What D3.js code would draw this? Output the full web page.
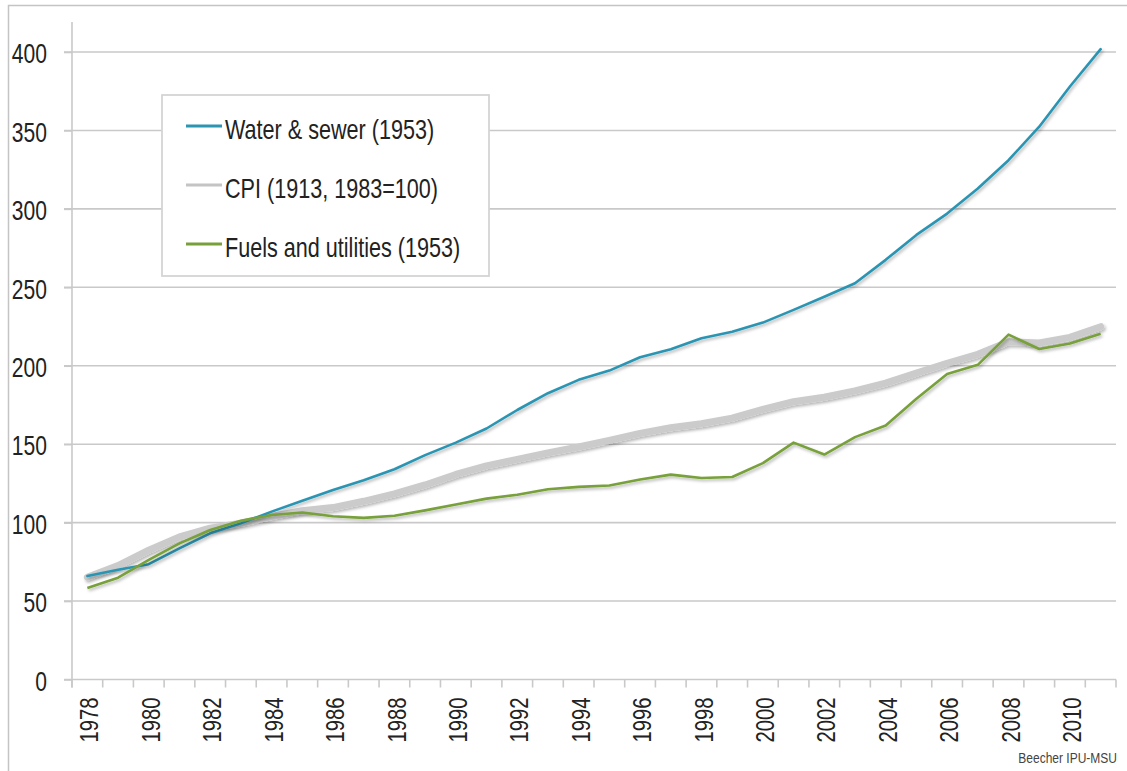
<!DOCTYPE html>
<html>
<head>
<meta charset="utf-8">
<script src="https://cdn.jsdelivr.net/npm/d3@7"></script>
<style>
  body { margin: 0; background: #fff; }
  svg text { font-family: "Liberation Sans", Arial, sans-serif; fill: #222; }
</style>
</head>
<body>
<svg width="1127" height="771"></svg>
<script>
const years = d3.range(1978, 2012);
const waterSewer = [66, 70, 73.5, 83.6, 93.2, 99.6, 107, 114, 120.8, 127, 134, 143, 151, 160, 171.8, 182.5,
  191, 196.9, 205.4, 210.5, 217.5, 221.7, 227.5, 235.6, 244, 252.6, 267.5, 283.4, 297, 313, 331, 352.4, 378, 401.8];
const cpi = [65.2, 72.6, 82.4, 90.9, 96.5, 99.6, 103.9, 107.6, 109.6, 113.6, 118.3, 124.0, 130.7, 136.2, 140.3, 144.5,
  148.2, 152.4, 156.9, 160.5, 163.0, 166.6, 172.2, 177.1, 179.9, 184.0, 188.9, 195.3, 201.6, 207.3, 215.3, 214.5, 218.1, 224.9];
const fuels = [58.3, 64.9, 76.2, 86.8, 95.3, 101.2, 104.9, 106.5, 104.1, 103.0, 104.4, 107.8, 111.6, 115.3, 117.8, 121.3,
  122.8, 123.7, 127.5, 130.6, 128.4, 129.1, 137.9, 151.0, 143.4, 154.5, 161.9, 179.0, 194.7, 200.6, 219.8, 210.7, 214.2, 220.4];
const yTicks = [0, 50, 100, 150, 200, 250, 300, 350, 400];
const seriesNames = ['Water & sewer (1953)', 'CPI (1913, 1983=100)', 'Fuels and utilities (1953)'];

const svg = d3.select('svg');
const gridColor = '#c9c9c9';

// outer frame (clipped at right / bottom like the source)
svg.append('rect')
  .attr('x', 8.5).attr('y', 5.5).attr('width', 1140).attr('height', 790)
  .attr('fill', 'none').attr('stroke', '#c4c4c4').attr('stroke-width', 1.5);

const defs = svg.append('defs');
const f = defs.append('filter').attr('id', 'shadow')
  .attr('x', '-5%').attr('y', '-5%').attr('width', '110%').attr('height', '110%');
f.append('feDropShadow').attr('dx', 1.5).attr('dy', 2).attr('stdDeviation', 1.6)
  .attr('flood-color', '#000').attr('flood-opacity', 0.28);

const xScale = d3.scaleBand().domain(years).range([72, 1116]).padding(0);
const yScale = d3.scaleLinear().domain([0, 400]).range([679.5, 52]);

// gridlines
svg.append('g').selectAll('line').data(yTicks.filter(d => d > 0)).enter().append('line')
  .attr('x1', 64).attr('x2', 1116)
  .attr('y1', d => yScale(d)).attr('y2', d => yScale(d))
  .attr('stroke', gridColor).attr('stroke-width', 1.6);

// y axis (narrow look: squeeze the glyphs horizontally)
const yAxis = d3.axisLeft(yScale).tickValues(yTicks).tickSize(8);
const yAxisG = svg.append('g').attr('transform', 'translate(72,0)').call(yAxis);
yAxisG.select('.domain').remove();
yAxisG.selectAll('.tick line').attr('stroke', gridColor).attr('stroke-width', 1.6);
yAxisG.selectAll('text')
  .attr('x', null).attr('dy', '0.36em')
  .attr('transform', 'translate(-25,1) scale(0.78,1)')
  .attr('font-size', '27px').attr('fill', '#222')
  .style('font-family', '"Liberation Sans", Arial, sans-serif');
svg.append('line').attr('x1', 72).attr('x2', 72).attr('y1', 22).attr('y2', 687.5)
  .attr('stroke', gridColor).attr('stroke-width', 1.6);

// x axis
svg.append('line').attr('x1', 64).attr('x2', 1116)
  .attr('y1', yScale(0)).attr('y2', yScale(0))
  .attr('stroke', gridColor).attr('stroke-width', 1.6);
const boundaries = years.map(d => xScale(d)).concat([xScale.range()[1]]);
svg.append('g').selectAll('line').data(boundaries).enter().append('line')
  .attr('x1', d => d).attr('x2', d => d)
  .attr('y1', yScale(0)).attr('y2', yScale(0) + 8)
  .attr('stroke', gridColor).attr('stroke-width', 1.6);

const xAxis = d3.axisBottom(xScale)
  .tickValues(years.filter(d => d % 2 === 0))
  .tickSize(0);
const xAxisG = svg.append('g').attr('transform', `translate(0,${yScale(0)})`).call(xAxis);
xAxisG.select('.domain').remove();
xAxisG.selectAll('text')
  .attr('font-size', '26px').attr('fill', '#222')
  .attr('text-anchor', 'end')
  .attr('x', 0).attr('y', 0).attr('dy', '0.35em')
  .attr('transform', 'translate(2,18) rotate(-90) scale(0.78,1)');

// lines
const line = arr => d3.line()
  .x((d, i) => xScale(years[i]) + xScale.bandwidth() / 2)
  .y(d => yScale(d))(arr);

svg.append('path').attr('d', line(cpi))
  .attr('fill', 'none').attr('stroke', '#cbcbcb').attr('stroke-width', 7)
  .attr('stroke-linejoin', 'round').attr('stroke-linecap', 'round')
  .attr('filter', 'url(#shadow)');
svg.append('path').attr('d', line(waterSewer))
  .attr('fill', 'none').attr('stroke', '#2b95b2').attr('stroke-width', 2.6)
  .attr('stroke-linejoin', 'round').attr('stroke-linecap', 'round')
  .attr('filter', 'url(#shadow)');
svg.append('path').attr('d', line(fuels))
  .attr('fill', 'none').attr('stroke', '#78a03a').attr('stroke-width', 2.6)
  .attr('stroke-linejoin', 'round')
  .attr('filter', 'url(#shadow)');

// legend
const legend = svg.append('g');
legend.append('rect')
  .attr('x', 162).attr('y', 95).attr('width', 327).attr('height', 181)
  .attr('fill', '#fff').attr('stroke', '#d4d4d4').attr('stroke-width', 1.8);
const legColors = ['#2b95b2', '#c4c4c4', '#78a03a'];
const legRows = legend.selectAll('g').data(seriesNames).enter().append('g')
  .attr('transform', (d, i) => `translate(186,${126 + i * 59})`);
legRows.append('line').attr('x1', 0).attr('x2', 36).attr('y1', 0).attr('y2', 0)
  .attr('stroke', (d, i) => legColors[i]).attr('stroke-width', 3);
legRows.append('text')
  .attr('transform', 'translate(39,13) scale(0.8,1)')
  .attr('font-size', '27px').text(d => d);

// source note
svg.append('text').attr('transform', 'translate(1117,763) scale(0.8,1)').attr('text-anchor', 'end')
  .attr('font-size', '15px').style('fill', '#444').text('Beecher IPU-MSU');
</script>
</body>
</html>
